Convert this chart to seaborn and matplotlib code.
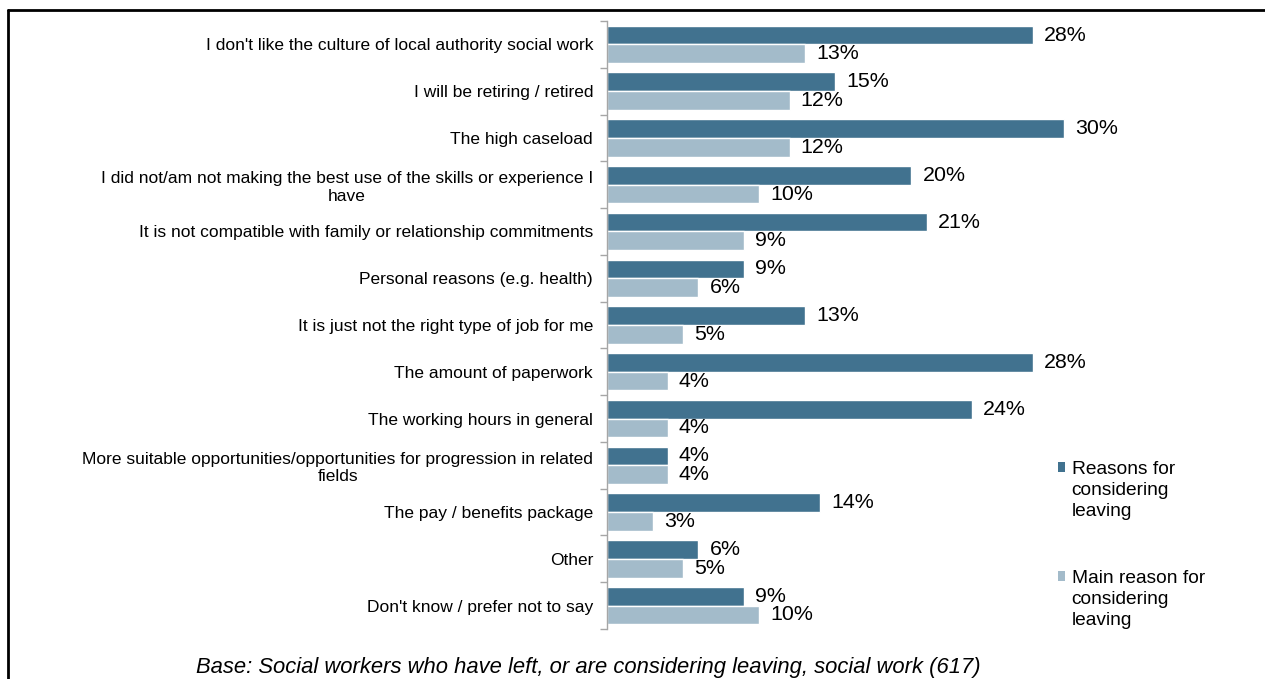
import matplotlib
matplotlib.use("Agg")
import matplotlib.pyplot as plt
import seaborn as sns
import pandas as pd
import numpy as np
from matplotlib.lines import Line2D
from matplotlib.patches import Patch, Rectangle
from matplotlib.legend_handler import HandlerPatch

categories = [
    "I don't like the culture of local authority social work",
    "I will be retiring / retired",
    "The high caseload",
    "I did not/am not making the best use of the skills or experience I\nhave",
    "It is not compatible with family or relationship commitments",
    "Personal reasons (e.g. health)",
    "It is just not the right type of job for me",
    "The amount of paperwork",
    "The working hours in general",
    "More suitable opportunities/opportunities for progression in related\nfields",
    "The pay / benefits package",
    "Other",
    "Don't know / prefer not to say",
]
reasons = [28, 15, 30, 20, 21, 9, 13, 28, 24, 4, 14, 6, 9]
main_reason = [13, 12, 12, 10, 9, 6, 5, 4, 4, 4, 3, 5, 10]
series_names = ["Reasons for\nconsidering\nleaving", "Main reason for\nconsidering\nleaving"]
caption = "Base: Social workers who have left, or are considering leaving, social work (617)"

dark = "#41728F"
light = "#A3BBCA"

df = pd.DataFrame({
    "category": categories * 2,
    "value": reasons + main_reason,
    "series": [series_names[0]] * len(categories) + [series_names[1]] * len(categories),
})

sns.set_style("white")
plt.rcParams["font.family"] = ["Liberation Sans", "DejaVu Sans"]
plt.rcParams["text.color"] = "black"
plt.rcParams["ytick.color"] = "black"

fig = plt.figure(figsize=(12.65, 6.79), dpi=100)
ax = fig.add_axes([607 / 1265, 1 - 629 / 679, (1094 - 607) / 1265, (629 - 21) / 679])

sns.barplot(data=df, y="category", x="value", hue="series", orient="h",
            palette=[dark, light], saturation=1, width=0.8, ax=ax, legend=False,
            edgecolor="white", linewidth=1)

ax.set_xlim(0, 32)
ax.set_ylim(len(categories) - 0.5, -0.5)
ax.set_xlabel("")
ax.set_ylabel("")
ax.set_xticks([])
for s in ["top", "right", "bottom"]:
    ax.spines[s].set_visible(False)
ax.spines["left"].set_color("#A6A6A6")
ax.spines["left"].set_linewidth(1)

ax.set_yticks(range(len(categories)))
ax.set_yticklabels(categories, fontsize=12.5, multialignment="center", color="black")
ax.tick_params(axis="y", which="major", left=False, length=0, pad=10)
ax.set_yticks(np.arange(-0.5, len(categories), 1), minor=True)
ax.tick_params(axis="y", which="minor", left=True, length=5, color="#A6A6A6", width=1)

for cont in ax.containers:
    ax.bar_label(cont, labels=[f"{v:.0f}%" for v in cont.datavalues],
                 padding=8, fontsize=15.4, color="black")


class TopHandler(HandlerPatch):
    def create_artists(self, legend, orig_handle, xdescent, ydescent, width, height,
                       fontsize, trans):
        p = Rectangle((-xdescent, -ydescent + fontsize * 1.2), width, height,
                      facecolor=orig_handle.get_facecolor(), edgecolor="none", transform=trans)
        return [p]


handles = [Patch(facecolor=dark), Patch(facecolor=light)]
leg = ax.legend(handles, series_names, loc="upper left",
                bbox_to_anchor=(1048 / 1265, 1 - 451 / 679), bbox_transform=fig.transFigure,
                frameon=False, fontsize=13.8, handlelength=0.38, handleheight=0.38,
                handletextpad=0.35, labelspacing=2.6, borderpad=0,
                handler_map={Patch: TopHandler()})
for t in leg.get_texts():
    t.set_linespacing(1.32)

fig.text(588 / 1265, 1 - 668 / 679, caption, ha="center", va="center",
         fontsize=15.8, style="italic")

# outer frame (top and left edges visible)
fig.add_artist(Line2D([8 / 1265, 1.0], [1 - 10 / 679, 1 - 10 / 679], color="black", lw=2,
                      transform=fig.transFigure))
fig.add_artist(Line2D([8 / 1265, 8 / 1265], [1 - 10 / 679, 0], color="black", lw=2,
                      transform=fig.transFigure))

fig.savefig("out.png", dpi=100)
